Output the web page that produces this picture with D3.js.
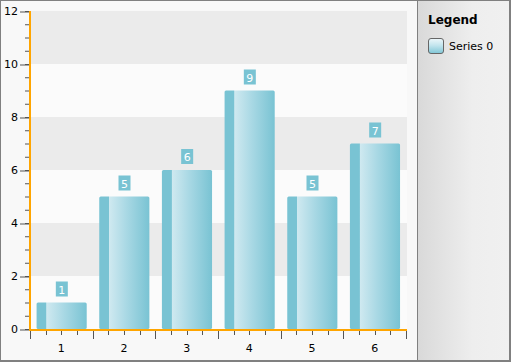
<!DOCTYPE html>
<html><head><meta charset="utf-8">
<script src="https://cdn.jsdelivr.net/npm/d3@7"></script>
<style>body{margin:0;padding:0;background:#fff}svg{display:block}</style>
</head><body>
<script>
const categories = ["1","2","3","4","5","6"];
const values = [1,5,6,9,5,7];
const yTicks = [0,2,4,6,8,10,12];
const seriesName = "Series 0";
const legendTitle = "Legend";

const W = 511, H = 362;
const svg = d3.select("body").append("svg").attr("width", W).attr("height", H);
const defs = svg.append("defs");

const bg = defs.append("linearGradient").attr("id","barGrad").attr("x1","0").attr("x2","1").attr("y1","0").attr("y2","0");
[[0,"#79c3d3"],[0.19,"#79c3d3"],[0.2,"#cfe9f0"],[0.55,"#a8d8e4"],[1,"#79c3d3"]].forEach(s=>bg.append("stop").attr("offset",s[0]).attr("stop-color",s[1]));
const lg = defs.append("linearGradient").attr("id","legGrad").attr("x1","0").attr("x2","1").attr("y1","0").attr("y2","0");
[[0,"#d9d9d9"],[0.6,"#eeeeee"],[1,"#f0f0f0"]].forEach(s=>lg.append("stop").attr("offset",s[0]).attr("stop-color",s[1]));
const ig = defs.append("linearGradient").attr("id","iconGrad").attr("x1","0").attr("x2","0").attr("y1","0").attr("y2","1");
[[0,"#eef7fa"],[0.45,"#c4e5ee"],[1,"#7fc6d6"]].forEach(s=>ig.append("stop").attr("offset",s[0]).attr("stop-color",s[1]));

// outer border & panels
svg.append("rect").attr("x",0).attr("y",0).attr("width",W).attr("height",H).attr("fill","#808080");
svg.append("rect").attr("x",1).attr("y",1).attr("width",416).attr("height",359).attr("fill","#f8f8f8");
svg.append("rect").attr("x",418).attr("y",1).attr("width",91).attr("height",359).attr("fill","url(#legGrad)");

const pLeft = 30, pRight = 406, pTop = 11, pBottom = 329;
const y = d3.scaleLinear().domain([0,12]).range([pBottom, pTop]);
const x = d3.scaleBand().domain(categories).range([pLeft, pRight]).padding(0);

// bands
const bandPairs = d3.range(0, 12, 2);
svg.append("g").selectAll("rect").data(bandPairs).join("rect")
  .attr("x", pLeft).attr("width", pRight - pLeft + 1)
  .attr("y", d => y(d+2)).attr("height", d => y(d) - y(d+2))
  .attr("fill", d => (d/2) % 2 === 1 ? "#ebebeb" : "#fbfbfb");

// bars
const g = svg.append("g");
g.selectAll("rect.bar").data(values).join("rect").attr("class","bar")
  .attr("x", (d,i) => x(categories[i]) + x.bandwidth()*0.105)
  .attr("width", x.bandwidth()*0.8)
  .attr("y", d => y(d)).attr("height", d => y(0) - y(d))
  .attr("rx", 1.5).attr("fill", "url(#barGrad)");

// value labels
const lab = g.selectAll("g.lab").data(values).join("g").attr("class","lab")
  .attr("transform", (d,i) => `translate(${x(categories[i]) + x.bandwidth()/2 + 0.5},${y(d) - 6})`);
lab.append("rect").attr("x",-6).attr("y",-15).attr("width",12).attr("height",15).attr("fill","#79c3d3");
lab.append("text").attr("x",0).attr("y",-3).attr("text-anchor","middle")
  .attr("font-family","DejaVu Sans, sans-serif").attr("font-size",11).attr("fill","#fff").text(d=>d);

// y axis
const yAxis = svg.append("g").attr("transform",`translate(${pLeft},0)`);
yAxis.selectAll("line.minor").data(d3.range(0, 12.01, 0.5)).join("line")
  .attr("x1",-5).attr("x2",0).attr("y1",d=>y(d)+0.5).attr("y2",d=>y(d)+0.5).attr("stroke","#555");
yAxis.call(d3.axisLeft(y).tickValues(yTicks).tickSize(10).tickPadding(2).tickFormat(d3.format("d")));
yAxis.select(".domain").remove();
yAxis.selectAll(".tick line").attr("stroke","#555").attr("transform","translate(0,0.5)");
yAxis.selectAll(".tick text").attr("font-family","DejaVu Sans, sans-serif").attr("font-size",11).attr("fill","#000").attr("dy","0.35em");
svg.append("line").attr("x1",pLeft).attr("x2",pLeft).attr("y1",pTop).attr("y2",pBottom+2).attr("stroke","#ffa500").attr("stroke-width",2);

// x axis
const xAxis = svg.append("g").attr("transform",`translate(0,${pBottom+1})`);
const bounds = categories.map(c => x(c)).concat([pRight]);
xAxis.selectAll("line.major").data(bounds).join("line")
  .attr("x1",d=>Math.round(d)+0.5).attr("x2",d=>Math.round(d)+0.5).attr("y1",0).attr("y2",9).attr("stroke","#555");
const minors = [];
categories.forEach(c => [0.25,0.5,0.75].forEach(f => minors.push(x(c) + f*x.bandwidth())));
xAxis.selectAll("line.minor").data(minors).join("line")
  .attr("x1",d=>Math.round(d)+0.5).attr("x2",d=>Math.round(d)+0.5).attr("y1",0).attr("y2",5).attr("stroke","#555");
xAxis.selectAll("text").data(categories).join("text")
  .attr("x", c => x(c) + x.bandwidth()/2).attr("y", 22).attr("text-anchor","middle")
  .attr("font-family","DejaVu Sans, sans-serif").attr("font-size",11).attr("fill","#000").text(c=>c);
svg.append("line").attr("x1",pLeft-1).attr("x2",pRight+1).attr("y1",pBottom+1).attr("y2",pBottom+1).attr("stroke","#ffa500").attr("stroke-width",2);

// legend
svg.append("text").attr("x",428).attr("y",24).attr("font-family","DejaVu Sans, sans-serif").attr("font-size",12).attr("font-weight","bold").attr("fill","#000").text(legendTitle);
svg.append("rect").attr("x",428.5).attr("y",38.5).attr("width",15).attr("height",15).attr("rx",2.5).attr("fill","url(#iconGrad)").attr("stroke","#666");
svg.append("text").attr("x",449).attr("y",50).attr("font-family","DejaVu Sans, sans-serif").attr("font-size",11).attr("fill","#000").text(seriesName);
</script>
</body></html>
